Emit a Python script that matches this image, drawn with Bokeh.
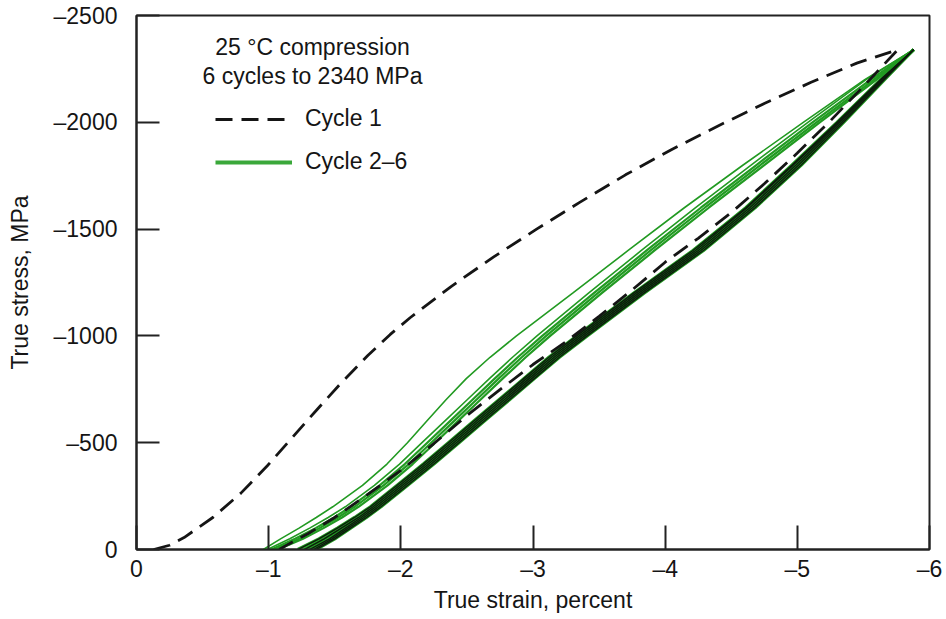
from bokeh.plotting import figure
from bokeh.models import Range1d, FixedTicker, Label, Legend, LegendItem
from bokeh.embed import file_html
from bokeh.resources import INLINE

# ---------------- data ----------------
x_ticks = [0, -1, -2, -3, -4, -5, -6]
x_labels = ["0", "–1", "–2", "–3", "–4", "–5", "–6"]
y_ticks = [0, -500, -1000, -1500, -2000, -2500]
y_labels = ["0", "–500", "–1000", "–1500", "–2000", "–2500"]

# Cycle 1 (dashed): loading then unloading, true strain (%) and true stress (MPa)
cycle1_strain = [-0.13, -0.25, -0.36, -0.58, -0.79, -0.99, -1.17, -1.37, -1.54, -1.75,
                 -1.92, -2.07, -2.38, -2.70, -3.03, -3.35, -3.70, -4.05, -4.40, -4.75,
                 -5.10, -5.45, -5.76,
                 -5.50, -5.25, -5.00, -4.75, -4.50, -4.25, -4.00, -3.75, -3.50, -3.25,
                 -3.00, -2.75, -2.50, -2.25, -2.00, -1.75, -1.50, -1.30, -1.15, -1.08]
cycle1_stress = [0, -20, -56, -151, -264, -392, -518, -658, -774, -908,
                 -1007, -1085, -1231, -1369, -1501, -1624, -1754, -1873, -1983, -2088,
                 -2186, -2277, -2340,
                 -2168, -2007, -1856, -1712, -1577, -1457, -1345, -1215, -1091, -973,
                 -866, -748, -627, -496, -370, -258, -150, -75, -25, 0]

# Cycles 2-6: strain (%) read at common stress levels (MPa)
stress_levels = [0, -50, -100, -150, -200, -300, -400, -500, -600, -700,
                 -800, -900, -1000, -1200, -1400, -1600, -1800, -2000, -2200, -2340]

cycle2_load = [-0.96, -1.09, -1.23, -1.36, -1.485, -1.71, -1.895, -2.05, -2.195, -2.34,
               -2.495, -2.675, -2.875, -3.30, -3.72, -4.145, -4.59, -5.045, -5.51, -5.88]
cycle3_load = [-0.99, -1.16, -1.31, -1.45, -1.58, -1.80, -1.99, -2.16, -2.33, -2.50,
               -2.67, -2.845, -3.03, -3.42, -3.82, -4.23, -4.65, -5.08, -5.52, -5.88]
cycle4_load = [-1.02, -1.20, -1.355, -1.495, -1.62, -1.84, -2.03, -2.20, -2.37, -2.54,
               -2.71, -2.885, -3.07, -3.46, -3.86, -4.27, -4.69, -5.115, -5.555, -5.88]
cycle5_load = [-1.05, -1.23, -1.385, -1.525, -1.65, -1.87, -2.06, -2.23, -2.40, -2.57,
               -2.74, -2.915, -3.10, -3.49, -3.89, -4.30, -4.72, -5.145, -5.58, -5.88]
cycle6_load = [-1.07, -1.26, -1.415, -1.555, -1.68, -1.90, -2.09, -2.26, -2.43, -2.60,
               -2.77, -2.945, -3.13, -3.52, -3.92, -4.33, -4.75, -5.17, -5.60, -5.88]

cycle2_unload = [-1.22, -1.38, -1.52, -1.65, -1.77, -1.97, -2.17, -2.36, -2.55, -2.74,
                 -2.93, -3.12, -3.33, -3.76, -4.21, -4.61, -4.96, -5.30, -5.63, -5.88]
cycle3_unload = [-1.27, -1.42, -1.55, -1.68, -1.79, -1.99, -2.19, -2.38, -2.57, -2.76,
                 -2.95, -3.14, -3.35, -3.78, -4.23, -4.62, -4.97, -5.31, -5.635, -5.88]
cycle4_unload = [-1.31, -1.46, -1.58, -1.70, -1.81, -2.01, -2.21, -2.40, -2.59, -2.78,
                 -2.97, -3.16, -3.37, -3.80, -4.25, -4.64, -4.99, -5.32, -5.64, -5.88]
cycle5_unload = [-1.34, -1.48, -1.60, -1.72, -1.83, -2.03, -2.23, -2.42, -2.61, -2.80,
                 -2.99, -3.18, -3.39, -3.82, -4.27, -4.66, -5.01, -5.335, -5.65, -5.88]
cycle6_unload = [-1.36, -1.50, -1.62, -1.74, -1.85, -2.05, -2.25, -2.44, -2.63, -2.82,
                 -3.01, -3.20, -3.41, -3.84, -4.29, -4.68, -5.03, -5.35, -5.66, -5.88]

title_lines = ["25 °C compression", "6 cycles to 2340 MPa"]

# ---------------- figure ----------------
FONT = "Liberation Sans"
GREEN = "#229a22"
INK = "#151515"

p = figure(width=946, height=619, x_range=Range1d(0, -6), y_range=Range1d(0, -2500),
           output_backend="svg", toolbar_location=None,
           min_border_left=136, min_border_right=17, min_border_top=15, min_border_bottom=70)

p.grid.visible = False
p.outline_line_color = "#222222"
p.outline_line_width = 2

for ax in (p.xaxis[0], p.yaxis[0]):
    ax.axis_line_color = "#222222"
    ax.axis_line_width = 2
    ax.major_tick_line_color = "#222222"
    ax.major_tick_line_width = 2
    ax.major_tick_out = 0
    ax.minor_tick_line_color = None
    ax.major_label_text_font = FONT
    ax.major_label_text_font_size = "23px"
    ax.major_label_text_color = INK
    ax.axis_label_text_font = FONT
    ax.axis_label_text_font_size = "23px"
    ax.axis_label_text_font_style = "normal"
    ax.axis_label_text_color = INK

p.xaxis.ticker = FixedTicker(ticks=x_ticks)
p.xaxis.major_label_overrides = dict(zip(x_ticks, x_labels))
p.xaxis.major_tick_in = 24
p.xaxis.major_label_standoff = 6
p.xaxis.axis_label = "True strain, percent"
p.xaxis.axis_label_standoff = 2

p.yaxis.ticker = FixedTicker(ticks=y_ticks)
p.yaxis.major_label_overrides = dict(zip(y_ticks, y_labels))
p.yaxis.major_tick_in = 23
p.yaxis.major_label_standoff = 19
p.yaxis.axis_label = "True stress, MPa"
p.yaxis.axis_label_standoff = 18

# cycles 2-6 loading (upper branches)
for xs, w in [(cycle2_load, 1.6), (cycle3_load, 1.6), (cycle4_load, 2.2),
              (cycle5_load, 2.2), (cycle6_load, 2.2)]:
    p.line(xs, stress_levels, line_color=GREEN, line_width=w)

# cycles 2-6 unloading (lower dark bundle)
unloads = [cycle2_unload, cycle3_unload, cycle4_unload, cycle5_unload, cycle6_unload]
for xs in unloads:
    p.line(xs, stress_levels, line_color=GREEN, line_width=3.2)
for xs in unloads:
    p.line(xs, stress_levels, line_color="#0c1a0c", line_width=1.4)

# cycle 1 dashed
r1 = p.line(cycle1_strain, cycle1_stress, line_color=INK, line_width=2.8,
            line_dash="17 9")

# legend-only green renderer (no visible data)
rg = p.line([float("nan")], [float("nan")], line_color="#3aa83a", line_width=4)

legend = Legend(items=[LegendItem(label="Cycle 1", renderers=[r1]),
                       LegendItem(label="Cycle 2–6", renderers=[rg])],
                location=(79, 374), orientation="vertical",
                glyph_width=77, glyph_height=20, label_height=20,
                label_standoff=13, spacing=16, padding=0, margin=0,
                border_line_alpha=0, background_fill_alpha=0,
                label_text_font=FONT, label_text_font_size="23px",
                label_text_color=INK)
p.add_layout(legend)

p.add_layout(Label(x=176, y=503, x_units="screen", y_units="screen", text=title_lines[0],
                   text_align="center", text_baseline="middle",
                   text_font=FONT, text_font_size="23px", text_color=INK))
p.add_layout(Label(x=176, y=474, x_units="screen", y_units="screen", text=title_lines[1],
                   text_align="center", text_baseline="middle",
                   text_font=FONT, text_font_size="23px", text_color=INK))

open("out.html", "w").write(file_html(p, INLINE))
